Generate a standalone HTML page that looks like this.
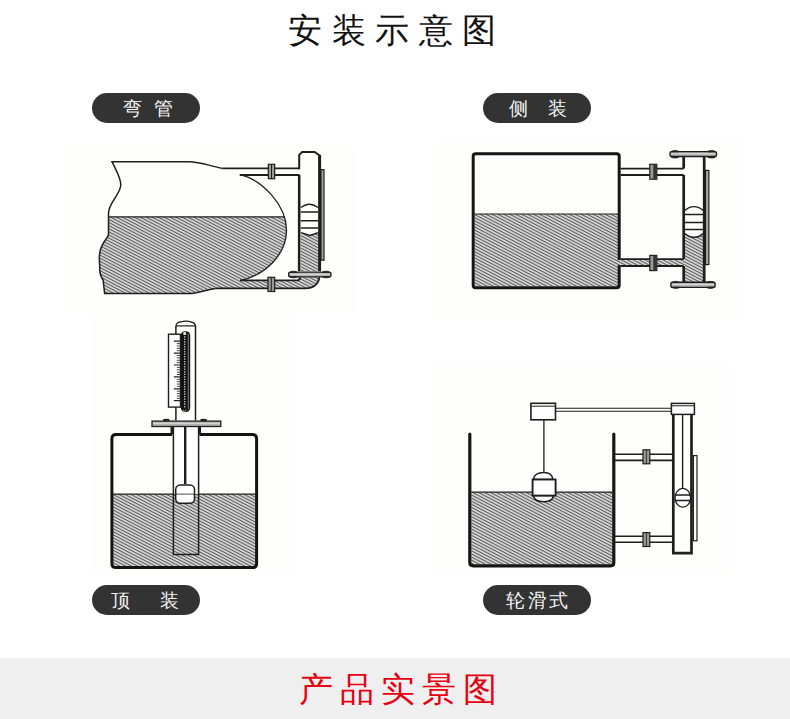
<!DOCTYPE html>
<html><head><meta charset="utf-8">
<style>
html,body{margin:0;padding:0;background:#fff;}
body{width:790px;height:719px;position:relative;overflow:hidden;font-family:"Liberation Sans",sans-serif;}
.title{position:absolute;left:288px;top:7px;font-size:34px;line-height:46px;color:#111;letter-spacing:9.6px;font-weight:500;white-space:nowrap;}
.pill{position:absolute;width:108px;height:30px;border-radius:15px;background:#333;color:#f4f4f4;font-size:19px;line-height:30px;font-weight:500;}
.pill span{position:absolute;top:1px;}
.band{position:absolute;left:0;top:658px;width:790px;height:61px;background:#efefef;}
.band div{position:absolute;left:298.5px;top:11px;font-size:34px;line-height:40px;color:#e60012;letter-spacing:7.0px;white-space:nowrap;}
svg{position:absolute;left:0;top:0;}
</style></head><body>
<div class="title">安装示意图</div>
<svg width="790" height="719" viewBox="0 0 790 719">
<defs>
<pattern id="h" patternUnits="userSpaceOnUse" width="8" height="2.75" patternTransform="rotate(27.5)">
<rect width="8" height="2.75" fill="#fff"/>
<rect y="0.68" width="8" height="1.4" fill="#555"/>
</pattern>
</defs>

<g fill="#fefefc">
<rect x="63" y="146" width="295" height="166"/>
<rect x="437" y="141" width="306" height="177"/>
<rect x="90" y="313" width="205" height="260"/>
<rect x="431" y="366" width="299" height="207"/>
</g>
<!-- ========== Diagram 1 ========== -->
<g>
<path fill="url(#h)" d="M108.5,216.9 L284.8,216.9 C286.3,221 286.6,226 286.5,231 C286,255 265,275 240.4,280.5 L297.5,280.5 L297.5,277.3 L319.3,277.3 C319,284 313,288.4 305.6,288.4 L215.5,288.6 C205,290 197,293.6 189.2,293.6 L104.6,293.6 L103.2,280.4 C101,277 99.9,274 99.9,271.1 L99.3,257.9 C99.3,252 101,247 103.2,243.4 C105,240 108.5,237 108.5,234.1 Z"/>
<g fill="none" stroke="#1e1e1e">
<path stroke-width="1.5" d="M222.4,168.4 C210,166 200,161.7 189,161.7 L112,161.7 C116,170 121,178 120.8,185 C120,195 108.5,203 108.5,213 L108.5,234.1 C108.5,237 105,240 103.2,243.4 C101,247 99.3,252 99.3,257.9 L99.9,271.1 C99.9,274 101,277 103.2,280.4 L104.6,293.6 L189.2,293.6 C197,293.6 205,290 215.5,288.6"/>
<path stroke-width="1.2" d="M108.5,216.9 H285"/>
<path stroke-width="1.3" d="M240.4,174.6 C262,180 287,205 286.5,231 C286,255 265,275 240.4,280.5"/>
<path stroke-width="1.8" d="M222.4,168.4 H299.5 M239.7,175 H299.5 M240,280.3 H297.5 C299,280.3 300,279 300.3,277.3 M215.5,288.4 H305.6 C313,288.4 319,284 319.3,277.3"/>
<path stroke-width="2.6" d="M299.2,271.2 V175"/><path stroke-width="2" d="M299.2,169.2 V154.9 L302.2,151.9 H314.6 L319.3,155.2"/><path stroke-width="3" d="M319.6,154.8 V271.2"/>
</g>
<path fill="url(#h)" d="M300.8,233 L310,235.5 L318,233 V271.2 H300.8 Z"/>
<g fill="none" stroke="#1e1e1e" stroke-width="1.5">
<path d="M301,207.5 C304,205.5 307,204 310,204.3 C313,204.5 316,206 318,207.5"/>
<path d="M300.8,212 H318 M300.8,220.7 H318 M300.8,228 H318"/>
<path d="M301,232.6 L310,235.5 L318,232.6"/>
</g>
<rect x="321" y="169.6" width="3" height="90.6" fill="#a8a8a8" stroke="#1e1e1e" stroke-width="1.2"/>
<rect x="288.7" y="272.1" width="42.2" height="4.8" rx="1.5" fill="#b4b4b4" stroke="#1e1e1e" stroke-width="1.4"/><path d="M289.9,274.3 H329.7" stroke="#e6e6e6" stroke-width="0.8"/><path d="M289.7,272.5 C290.2,270.9 296.7,270.9 297.2,272.5 Z M289.7,276.59999999999997 C290.2,278.2 296.7,278.2 297.2,276.59999999999997 Z" fill="#2a2a2a" stroke="#1e1e1e" stroke-width="0.8"/><path d="M322.4,272.5 C322.9,270.9 329.4,270.9 329.9,272.5 Z M322.4,276.59999999999997 C322.9,278.2 329.4,278.2 329.9,276.59999999999997 Z" fill="#2a2a2a" stroke="#1e1e1e" stroke-width="0.8"/>
<rect x="268.3" y="164.3" width="6.4" height="14.4" fill="#999" stroke="#1e1e1e" stroke-width="1.2"/>
<path d="M271.5,164.3 V178.7" stroke="#1e1e1e" stroke-width="1"/>
<rect x="268" y="277.3" width="6.7" height="14.2" fill="#999" stroke="#1e1e1e" stroke-width="1.2"/>
<path d="M271.3,277.3 V291.5" stroke="#1e1e1e" stroke-width="1"/>
</g>

<!-- ========== Diagram 2 ========== -->
<g>
<rect x="474.5" y="214" width="143.5" height="72.5" fill="url(#h)"/>
<rect x="473.2" y="153.7" width="146" height="134" rx="2.5" fill="none" stroke="#161616" stroke-width="3"/>
<path d="M474.5,214 H618" stroke="#1e1e1e" stroke-width="1.2"/>
<rect x="617" y="260.1" width="69.5" height="5" fill="url(#h)"/>

<path d="M620.5,168.6 H683.7 M620.5,175 H683.7 M620.5,259.2 H683.7 M620.5,266 H683.7" stroke="#1e1e1e" stroke-width="1.8"/>
<path fill="url(#h)" d="M685,233.5 C688,236.5 691,237.3 694,237.3 C697,237.3 700,236.5 703,233.5 V282 H685 Z"/>
<path d="M683.7,156.7 V168.6 M683.7,175 V259.2 M683.7,266 V282 M704.2,156.7 V282" stroke="#1e1e1e" stroke-width="2.7" fill="none"/>
<g fill="none" stroke="#1e1e1e" stroke-width="1.5">
<path d="M685,210.5 C688,207.5 691,206.6 694,206.6 C697,206.6 700,207.5 703,210.5 M685,233.5 C688,236.5 691,237.3 694,237.3 C697,237.3 700,236.5 703,233.5" fill="none" stroke="#1e1e1e" stroke-width="1.4"/>
<path d="M685,214.4 H703 M685,222.5 H703 M685,229.6 H703" stroke="#1e1e1e" stroke-width="1.5"/>
</g>
<rect x="705.5" y="170.4" width="3.4" height="94.2" fill="#a8a8a8" stroke="#1e1e1e" stroke-width="1.2"/>
<rect x="649.8" y="164.3" width="7" height="14.9" fill="#999" stroke="#1e1e1e" stroke-width="1.2"/>
<rect x="653.3" y="164.3" width="3.5" height="14.9" fill="#333"/>
<rect x="649.8" y="255.4" width="7" height="15.2" fill="#999" stroke="#1e1e1e" stroke-width="1.2"/>
<rect x="653.3" y="255.4" width="3.5" height="15.2" fill="#333"/>
<rect x="670" y="151.6" width="46.5" height="4.9" rx="1.5" fill="#b4b4b4" stroke="#1e1e1e" stroke-width="1.4"/><path d="M671.2,153.79999999999998 H715.3" stroke="#e6e6e6" stroke-width="0.8"/><path d="M671.0,151.79999999999998 C671.5,150.2 678.5,150.2 679.0,151.79999999999998 Z M671.0,156.79999999999998 C671.5,158.39999999999998 678.5,158.39999999999998 679.0,156.79999999999998 Z" fill="#2a2a2a" stroke="#1e1e1e" stroke-width="0.8"/><path d="M707.5,151.79999999999998 C708.0,150.2 715.0,150.2 715.5,151.79999999999998 Z M707.5,156.79999999999998 C708.0,158.39999999999998 715.0,158.39999999999998 715.5,156.79999999999998 Z" fill="#2a2a2a" stroke="#1e1e1e" stroke-width="0.8"/>
<rect x="670.9" y="282.2" width="44.2" height="5.2" rx="1.5" fill="#b4b4b4" stroke="#1e1e1e" stroke-width="1.4"/><path d="M672.1,284.4 H713.9" stroke="#e6e6e6" stroke-width="0.8"/><path d="M671.9,282.6 C672.4,281.0 678.9,281.0 679.4,282.6 Z M671.9,287.2 C672.4,288.8 678.9,288.8 679.4,287.2 Z" fill="#2a2a2a" stroke="#1e1e1e" stroke-width="0.8"/><path d="M706.6,282.6 C707.1,281.0 713.6,281.0 714.1,282.6 Z M706.6,287.2 C707.1,288.8 713.6,288.8 714.1,287.2 Z" fill="#2a2a2a" stroke="#1e1e1e" stroke-width="0.8"/>
</g>

<!-- ========== Diagram 3 ========== -->
<g>
<rect x="112.8" y="494.1" width="142.6" height="72.3" fill="url(#h)"/>
<path d="M172,434.6 H116 C113.2,434.6 111.9,436 111.9,438.8 V563.4 C111.9,566.2 113.2,567.6 116,567.6 H252.4 C255.2,567.6 256.6,566.2 256.6,563.4 V438.8 C256.6,436 255.2,434.6 252.4,434.6 H199.5" fill="none" stroke="#141414" stroke-width="3"/>
<path d="M172,426.5 V434.5 M199.5,426.5 V434.5" stroke="#1e1e1e" stroke-width="3"/>
<path d="M112.8,494.1 H255.4" stroke="#1e1e1e" stroke-width="1.2"/>
<rect x="173.9" y="426.5" width="24.2" height="67.6" fill="#fff"/>
<path d="M173.4,426.5 V554.5 H198.6 V426.5" fill="none" stroke="#1e1e1e" stroke-width="1.5"/>
<path d="M185.2,426.5 V484" stroke="#1e1e1e" stroke-width="2.4"/>
<rect x="175.7" y="485" width="18.8" height="18.3" rx="4.5" fill="#fff" stroke="#1e1e1e" stroke-width="1.5"/>
<path d="M175.7,494.1 H194.5" stroke="#1e1e1e" stroke-width="0.8"/>
<rect x="152" y="421.1" width="68.8" height="5.4" fill="#b4b4b4" stroke="#1e1e1e" stroke-width="1.3"/><path d="M153,423.3 H219.8" stroke="#e6e6e6" stroke-width="0.8"/>
<ellipse cx="166.3" cy="420" rx="3.5" ry="1.3" fill="#222"/><ellipse cx="203.6" cy="420" rx="3.5" ry="1.3" fill="#222"/>
<path d="M175.9,420.5 V326 M195.5,420.5 V326" stroke="#1e1e1e" stroke-width="1.5"/>
<path d="M175.9,326.5 C176,323 179,321.5 181,322 C183,321 188,320.5 191,322 C194,322.5 195.5,324 195.5,326.5" fill="none" stroke="#1e1e1e" stroke-width="1.3"/>
<path d="M175.9,325.9 H195.5" stroke="#1e1e1e" stroke-width="1.2"/>
<rect x="168.5" y="334.2" width="12" height="72.9" fill="#fff" stroke="#1e1e1e" stroke-width="1.4"/>
<path d="M173.8,341.2 H180.5 M173.8,353.1 H180.5 M173.8,365 H180.5 M173.8,376.9 H180.5 M173.8,388.8 H180.5 M173.8,400.7 H180.5" stroke="#222" stroke-width="1.2"/>
<path d="M176.8,343.6 H180.5 M176.8,346 H180.5 M176.8,348.4 H180.5 M176.8,350.7 H180.5 M176.8,355.5 H180.5 M176.8,357.9 H180.5 M176.8,360.3 H180.5 M176.8,362.6 H180.5 M176.8,367.4 H180.5 M176.8,369.8 H180.5 M176.8,372.2 H180.5 M176.8,374.5 H180.5 M176.8,379.3 H180.5 M176.8,381.7 H180.5 M176.8,384.1 H180.5 M176.8,386.4 H180.5 M176.8,391.2 H180.5 M176.8,393.6 H180.5 M176.8,396 H180.5 M176.8,398.3 H180.5" stroke="#333" stroke-width="0.9"/>
<rect x="180.8" y="331.3" width="9.4" height="80.6" rx="4.2" fill="#141414"/>
<path d="M184.7,336 V408" stroke="#bbb" stroke-width="1.3" stroke-dasharray="1.6,0.9"/>
<path d="M188.3,334 V409" stroke="#999" stroke-width="0.8"/>
<circle cx="184.7" cy="333.5" r="1.6" fill="#eee"/>
<path d="M183,410 L184.7,411.5 L186.4,410" fill="none" stroke="#ddd" stroke-width="0.8"/>
</g>

<!-- ========== Diagram 4 ========== -->
<g>
<rect x="471.3" y="492.1" width="141.2" height="72.6" fill="url(#h)"/>
<path d="M469.8,434 V562.5 C469.8,564.5 471.3,565.8 473.3,565.8 H610.5 C612.5,565.8 613.8,564.5 613.8,562.5 V434" fill="none" stroke="#161616" stroke-width="3.2" stroke-linecap="round"/>
<path d="M471.3,492.1 H612.5" stroke="#1e1e1e" stroke-width="1.2"/>
<rect x="530.9" y="403.3" width="24.6" height="16.5" fill="#fff" stroke="#1e1e1e" stroke-width="1.6"/>
<path d="M530.9,406.2 H555.5" stroke="#1e1e1e" stroke-width="1"/>
<path d="M555.5,408.3 H671.4 M555.5,411.2 H671.4" stroke="#1e1e1e" stroke-width="1.1"/>
<path d="M543.9,420 V472.6" stroke="#1e1e1e" stroke-width="1.3"/>
<path d="M533.3,479.5 C534,475 538,472.5 543.9,472.5 C549.8,472.5 552.5,475 552.8,479.5 Z M533.5,495.6 C534,499.5 538,501.7 543.9,501.7 C549.8,501.7 553,499.5 553.3,495.6 Z" fill="#fff" stroke="#1e1e1e" stroke-width="1.5"/>
<rect x="532.6" y="479.5" width="23" height="16.1" fill="#fff" stroke="#1e1e1e" stroke-width="1.9"/>
<path d="M614.5,454.3 H673 M614.5,460.4 H673 M614.5,536.3 H673 M614.5,542.3 H673" stroke="#1e1e1e" stroke-width="1.6"/>
<rect x="643" y="449.8" width="6.8" height="14" fill="#999" stroke="#1e1e1e" stroke-width="1.2"/><path d="M646.4,449.8 V463.8" stroke="#1e1e1e" stroke-width="0.8"/>
<rect x="643" y="532.6" width="6.8" height="13.9" fill="#999" stroke="#1e1e1e" stroke-width="1.2"/><path d="M646.4,532.6 V546.5" stroke="#1e1e1e" stroke-width="0.8"/>
<path d="M673.3,414 V553.2 H691.5 V414" fill="none" stroke="#1e1e1e" stroke-width="2.7"/>
<rect x="671.4" y="403.4" width="23" height="11" fill="#fff" stroke="#1e1e1e" stroke-width="1.5"/>
<path d="M671.4,405.8 H694.4" stroke="#1e1e1e" stroke-width="1"/>
<path d="M682.6,414.5 V489" stroke="#1e1e1e" stroke-width="1.4"/>
<ellipse cx="682.8" cy="497.8" rx="7.8" ry="9.4" fill="#fff" stroke="#1e1e1e" stroke-width="1.3"/>
<path d="M675,495.1 H690.6 M675,500.6 H690.6" stroke="#1e1e1e" stroke-width="1.5"/>
<rect x="693.4" y="455.6" width="3.6" height="85.2" fill="#fafafa" stroke="#1e1e1e" stroke-width="1.2"/>
</g>
</svg>

<div class="pill" style="left:92px;top:93px;"><span style="left:31.4px">弯</span><span style="left:62.4px">管</span></div>
<div class="pill" style="left:483px;top:93px;"><span style="left:25.9px">侧</span><span style="left:65.4px">装</span></div>
<div class="pill" style="left:92px;top:585px;"><span style="left:18.9px">顶</span><span style="left:67.6px">装</span></div>
<div class="pill" style="left:483px;top:585px;"><span style="left:22.9px">轮</span><span style="left:44.5px">滑</span><span style="left:65.7px">式</span></div>
<div class="band"><div>产品实景图</div></div>
</body></html>
